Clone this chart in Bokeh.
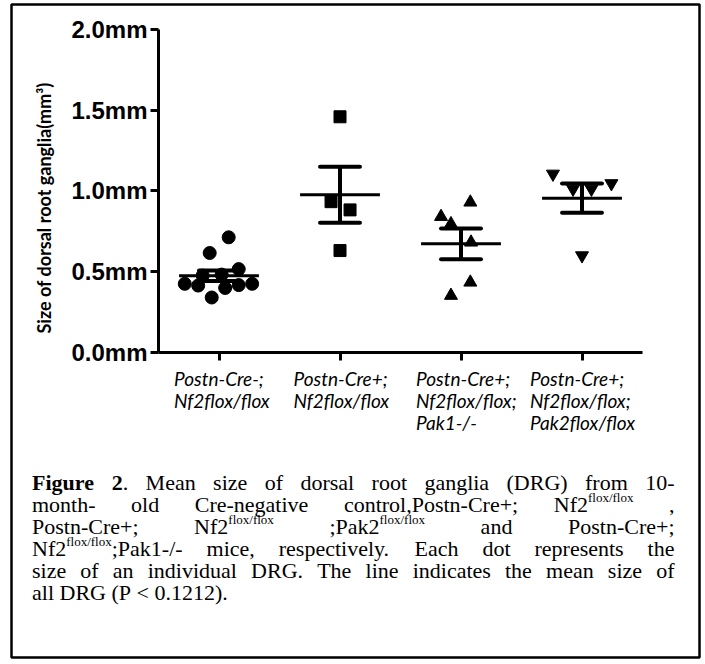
import numpy as np
from bokeh.plotting import figure
from bokeh.models import FixedTicker, PrintfTickFormatter, Label, BoxAnnotation, LinearAxis, Range1d
from bokeh.embed import file_html
from bokeh.resources import INLINE

# ---------------- data ----------------
categories = [
    "Postn-Cre-;\nNf2flox/flox",
    "Postn-Cre+;\nNf2flox/flox",
    "Postn-Cre+;\nNf2flox/flox;\nPak1-/-",
    "Postn-Cre+;\nNf2flox/flox;\nPak2flox/flox",
]
g1_values = [0.712, 0.615, 0.515, 0.424, 0.413, 0.339, 0.398, 0.416, 0.424, 0.475, 0.481]
g1_jitter = [0.08, -0.077, 0.163, -0.283, -0.172, -0.06, 0.051, 0.163, 0.274, -0.135, 0.022]
g2_values = [1.459, 0.933, 0.882, 0.630]
g2_jitter = [0.0, -0.074, 0.083, 0.0]
g3_values = [0.929, 0.840, 0.795, 0.681, 0.433, 0.351]
g3_jitter = [0.077, -0.165, -0.083, 0.083, 0.077, -0.083]
g4_values = [1.105, 1.012, 1.012, 1.046, 0.599]
g4_jitter = [-0.24, -0.074, 0.078, 0.243, 0.0]
y_ticks = [0.0, 0.5, 1.0, 1.5, 2.0]
y_title = "Size of dorsal root ganglia(mm³)"

caption_lines = [
    [[("Figure", "b")], [("2", "b"), (".", "n")], [("Mean", "n")], [("size", "n")], [("of", "n")],
     [("dorsal", "n")], [("root", "n")], [("ganglia", "n")], [("(DRG)", "n")], [("from", "n")], [("10-", "n")]],
    [[("month-", "n")], [("old", "n")], [("Cre-negative", "n")], [("control,Postn-Cre+;", "n")],
     [("Nf2", "n"), ("flox/flox", "s")], [(",", "n")]],
    [[("Postn-Cre+;", "n")], [("Nf2", "n"), ("flox/flox", "s")], [(";Pak2", "n"), ("flox/flox", "s")],
     [("and", "n")], [("Postn-Cre+;", "n")]],
    [[("Nf2", "n"), ("flox/flox", "s"), (";Pak1-/-", "n")], [("mice,", "n")], [("respectively.", "n")],
     [("Each", "n")], [("dot", "n")], [("represents", "n")], [("the", "n")]],
    [[("size", "n")], [("of", "n")], [("an", "n")], [("individual", "n")], [("DRG.", "n")], [("The", "n")],
     [("line", "n")], [("indicates", "n")], [("the", "n")], [("mean", "n")], [("size", "n")], [("of", "n")]],
    [[("all", "n")], [("DRG", "n")], [("(P", "n")], [("<", "n")], [("0.1212).", "n")]],
]

# ---------------- layout constants (page pixels) ----------------
W, H = 702, 660
AXL, AXR, AXT, AXB = 158, 642, 29, 351.7      # pixel box of the data area
X0, X1 = -0.5, 3.5
Y0, Y1 = 0.0, 2.0
kx = (AXR - AXL) / (X1 - X0)
ky = (AXB - AXT) / (Y1 - Y0)


def dx(px):
    return X0 + (px - AXL) / kx


def dy(py):
    return Y0 + (AXB - py) / ky


p = figure(width=W, height=H,
           x_range=Range1d(dx(0), dx(W)), y_range=Range1d(dy(H), dy(0)),
           output_backend="svg", toolbar_location=None,
           x_axis_location=None, y_axis_location=None,
           min_border=0, min_border_left=0, min_border_right=0,
           min_border_top=0, min_border_bottom=0)
p.outline_line_color = None
p.grid.visible = False
p.background_fill_color = "white"
p.border_fill_color = "white"

# y axis
ya = LinearAxis(fixed_location=X0, bounds=(Y0, Y1))
ya.ticker = FixedTicker(ticks=y_ticks)
ya.formatter = PrintfTickFormatter(format="%.1fmm")
ya.major_label_text_font = "Liberation Sans"
ya.major_label_text_font_style = "bold"
ya.major_label_text_font_size = "24px"
ya.major_label_text_color = "black"
ya.major_label_standoff = 3
ya.axis_line_width = 3
ya.axis_line_color = "black"
ya.major_tick_line_width = 3
ya.major_tick_out = 8
ya.major_tick_in = 0
ya.minor_tick_line_color = None
p.add_layout(ya, "left")

# x axis
xa = LinearAxis(fixed_location=Y0, bounds=(X0, X1))
xa.ticker = FixedTicker(ticks=[0, 1, 2, 3])
xa.major_label_text_color = None
xa.axis_line_width = 3
xa.axis_line_color = "black"
xa.major_tick_line_width = 3
xa.major_tick_out = 8
xa.major_tick_in = 0
xa.minor_tick_line_color = None
p.add_layout(xa, "below")

# ---------------- points ----------------
groups = [
    (g1_values, g1_jitter, "circle", 13),
    (g2_values, g2_jitter, "square", 12),
    (g3_values, g3_jitter, "triangle", 13),
    (g4_values, g4_jitter, "inverted_triangle", 13),
]
for i, (vals, jit, marker, size) in enumerate(groups):
    xs = [i + j for j in jit]
    p.scatter(xs, vals, marker=marker, size=size, fill_color="black", line_color="black")

for i, (vals, jit, marker, size) in enumerate(groups):
    arr = np.array(vals)
    m = arr.mean()
    sem = arr.std(ddof=1) / np.sqrt(len(arr))
    p.segment(x0=[i - 0.33], x1=[i + 0.33], y0=[m], y1=[m], line_width=3, line_color="black")
    p.segment(x0=[i - 0.165, i - 0.165], x1=[i + 0.165, i + 0.165], y0=[m - sem, m + sem],
              y1=[m - sem, m + sem], line_width=4, line_color="black", line_cap="round")
    p.segment(x0=[i], x1=[i], y0=[m - sem], y1=[m + sem], line_width=4, line_color="black")

# ---------------- category labels ----------------
cat_offsets = [-45, -46.5, -45, -52]
for i, txt in enumerate(categories):
    p.add_layout(Label(x=i, y=dy(366), x_offset=cat_offsets[i], text=txt,
                       text_font="Lato", text_font_style="italic", text_font_size="19px",
                       text_align="left", text_baseline="top", text_line_height=0.96,
                       text_color="black"))

# y title
p.add_layout(Label(x=dx(43), y=dy(207.5), text=y_title, angle=np.pi / 2,
                   text_font="Lato", text_font_style="bold", text_font_size="18px",
                   text_align="center", text_baseline="middle", text_color="black"))

# ---------------- caption ----------------
ROMAN = {' ': 250, ',': 250, '-': 333, '.': 250, '/': 278, ';': 278, '<': 564, '(': 333, ')': 333, '+': 564,
         '0': 500, '1': 500, '2': 500, '3': 500, '4': 500, '5': 500, '6': 500, '7': 500, '8': 500, '9': 500,
         'A': 722, 'B': 667, 'C': 667, 'D': 722, 'E': 611, 'F': 556, 'G': 722, 'H': 722, 'I': 333, 'J': 389,
         'K': 722, 'L': 611, 'M': 889, 'N': 722, 'O': 722, 'P': 556, 'Q': 722, 'R': 667, 'S': 556, 'T': 611,
         'U': 722, 'V': 722, 'W': 944, 'X': 722, 'Y': 722, 'Z': 611,
         'a': 444, 'b': 500, 'c': 444, 'd': 500, 'e': 444, 'f': 333, 'g': 500, 'h': 500, 'i': 278, 'j': 278,
         'k': 500, 'l': 278, 'm': 778, 'n': 500, 'o': 500, 'p': 500, 'q': 500, 'r': 333, 's': 389, 't': 278,
         'u': 500, 'v': 500, 'w': 722, 'x': 500, 'y': 500, 'z': 444}
BOLD = {' ': 250, '.': 250, '2': 500, 'F': 611, 'i': 278, 'g': 500, 'u': 556, 'r': 444, 'e': 444}
FS, SUP, RAISE = 22, 13, 7.5
CAP_L, CAP_R = 31.5, 674
BASE0, LEAD = 482, 22


def run_w(t, st):
    size = SUP if st == "s" else FS
    tab = BOLD if st == "b" else ROMAN
    return sum(tab.get(c, 500) for c in t) * size / 1000.0


for li, words in enumerate(caption_lines):
    widths = [sum(run_w(t, s) for t, s in w) for w in words]
    justified = li < len(caption_lines) - 1
    if justified:
        gap = (CAP_R - CAP_L - sum(widths)) / (len(words) - 1)
    else:
        gap = 250 * FS / 1000.0
    base = BASE0 + li * LEAD
    xcur = CAP_L
    for w, wd in zip(words, widths):
        xr = xcur
        for t, s in w:
            p.add_layout(Label(x=dx(xr), y=dy(base - (RAISE if s == "s" else 0)), text=t,
                               text_font="Liberation Serif",
                               text_font_style="bold" if s == "b" else "normal",
                               text_font_size=f"{SUP if s == 's' else FS}px",
                               text_align="left", text_baseline="alphabetic", text_color="black"))
            xr += run_w(t, s)
        xcur += wd + gap

# border box
p.add_layout(BoxAnnotation(left=dx(11), right=dx(699), top=dy(4), bottom=dy(657),
                           fill_alpha=0, line_color="black", line_alpha=1.0, line_width=2.5,
                           level="overlay"))

open("out.html", "w").write(file_html(p, INLINE))
